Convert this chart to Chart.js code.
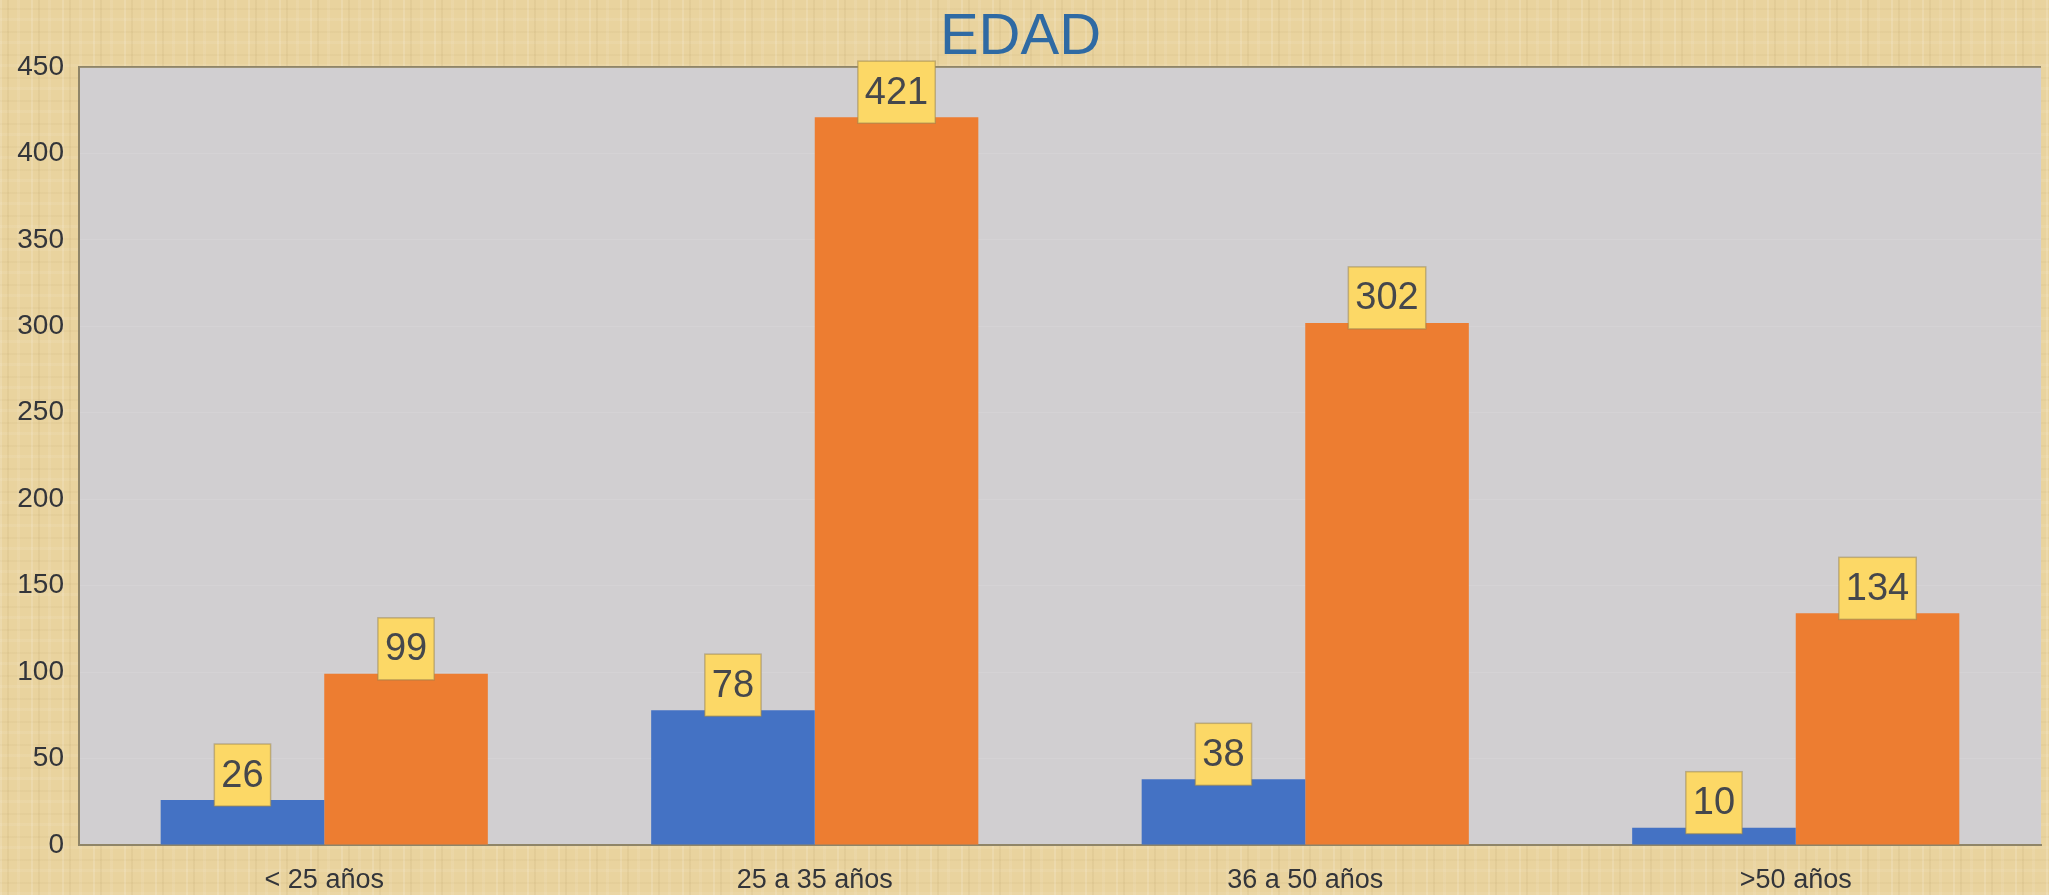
<!DOCTYPE html>
<html>
<head>
<meta charset="utf-8">
<script src="https://cdn.jsdelivr.net/npm/chart.js@4"></script>
<style>
  html, body { margin: 0; padding: 0; }
  body {
    width: 2049px; height: 895px; overflow: hidden;
    background-color: #e9d39e;
    background-image:
      repeating-linear-gradient(90deg, rgba(255,255,255,0.14) 0 2px, transparent 2px 7px, rgba(120,90,30,0.06) 7px 9px, transparent 9px 17px, rgba(255,255,255,0.08) 17px 20px, transparent 20px 31px),
      repeating-linear-gradient(0deg, rgba(255,255,255,0.07) 0 3px, transparent 3px 11px, rgba(120,90,30,0.04) 11px 13px, transparent 13px 23px);
  }
  #wrap { position: absolute; left: 0; top: 0; width: 2049px; height: 895px; }
</style>
</head>
<body>
<div id="wrap"><canvas id="chart"></canvas></div>
<script>
// Datos
const CATEGORIES = ['< 25 años', '25 a 35 años', '36 a 50 años', '>50 años'];
const SERIE_1 = [26, 78, 38, 10];     // azul
const SERIE_2 = [99, 421, 302, 134];  // naranja
const Y_MAX = 450;
const Y_STEP = 50;

const FONT = "'Liberation Sans', Arial, sans-serif";

// fondo gris del área de trazado + línea superior
const plotBg = {
  id: 'plotBg',
  beforeDraw(chart) {
    const { ctx, chartArea: a } = chart;
    ctx.save();
    ctx.fillStyle = '#d1cfd1';
    ctx.fillRect(a.left, a.top, a.right - a.left, a.bottom - a.top);
    ctx.strokeStyle = '#8f8568';
    ctx.lineWidth = 2;
    ctx.beginPath();
    ctx.moveTo(a.left, a.top);
    ctx.lineTo(a.right, a.top);
    ctx.stroke();
    ctx.restore();
  }
};

// etiquetas de datos en cajas amarillas
const boxLabels = {
  id: 'boxLabels',
  afterDatasetsDraw(chart) {
    const ctx = chart.ctx;
    ctx.save();
    ctx.font = `38px ${FONT}`;
    ctx.textAlign = 'center';
    ctx.textBaseline = 'middle';
    chart.data.datasets.forEach((ds, di) => {
      chart.getDatasetMeta(di).data.forEach((bar, i) => {
        const txt = String(ds.data[i]);
        const w = ctx.measureText(txt).width + 14;
        const h = 62;
        const x = bar.x - w / 2;
        const y = bar.y - 56;
        ctx.fillStyle = '#fcd866';
        ctx.fillRect(x, y, w, h);
        ctx.strokeStyle = 'rgba(150,130,80,0.5)';
        ctx.lineWidth = 1.5;
        ctx.strokeRect(x, y, w, h);
        ctx.fillStyle = '#45474c';
        ctx.fillText(txt, bar.x, y + h / 2 + 1);
      });
    });
    ctx.restore();
  }
};

new Chart(document.getElementById('chart'), {
  type: 'bar',
  data: {
    labels: CATEGORIES,
    datasets: [
      { label: 'Serie1', data: SERIE_1, backgroundColor: '#4472c4', categoryPercentage: 0.667, barPercentage: 1.0 },
      { label: 'Serie2', data: SERIE_2, backgroundColor: '#ed7d31', categoryPercentage: 0.667, barPercentage: 1.0 },
    ],
  },
  options: {
    responsive: true,
    maintainAspectRatio: false,
    animation: false,
    layout: { padding: { left: 0, right: 8, top: 0, bottom: 0 } },
    plugins: {
      legend: { display: false },
      tooltip: { enabled: false },
      title: {
        display: true,
        text: 'EDAD',
        color: '#2f6aa3',
        font: { family: FONT, size: 58, weight: 'normal', lineHeight: 1.0 },
        padding: { top: 9, bottom: 0 },
      },
    },
    scales: {
      x: {
        grid: { display: false, drawTicks: false },
        border: { display: true, color: '#8f8568', width: 2 },
        ticks: { color: '#33353a', font: { family: FONT, size: 27 }, padding: 19 },
        afterFit(s) { s.height = 50; },
      },
      y: {
        min: 0,
        max: Y_MAX,
        grid: { color: 'rgba(255,255,255,0.1)', drawTicks: false },
        border: { display: true, color: '#8f8568', width: 2 },
        ticks: { stepSize: Y_STEP, color: '#33353a', font: { family: FONT, size: 28 }, padding: 15 },
        afterFit(s) { s.width = 79; },
      },
    },
  },
  plugins: [plotBg, boxLabels],
});
</script>
</body>
</html>
